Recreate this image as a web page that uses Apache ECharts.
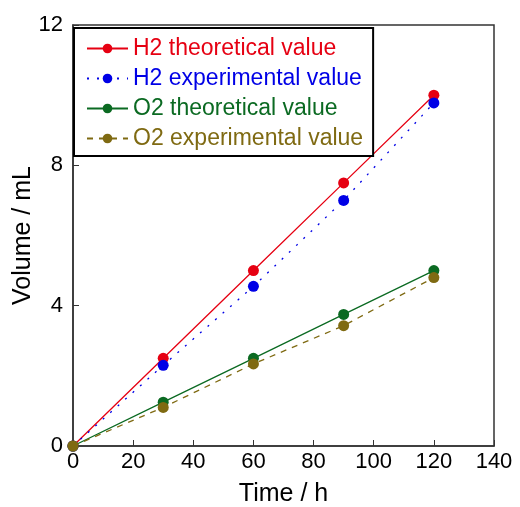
<!DOCTYPE html>
<html>
<head>
<meta charset="utf-8">
<script src="https://cdn.jsdelivr.net/npm/echarts@6/dist/echarts.min.js"></script>
<style>html,body{margin:0;padding:0;background:#fff;}#c{width:520px;height:507px;}</style>
</head>
<body>
<div id="c"></div>
<script>
var times = [0, 30, 60, 90, 120];
var h2Theoretical = [0, 2.5, 5.0, 7.5, 10.0];
var h2Experimental = [0, 2.3, 4.55, 7.0, 9.78];
var o2Theoretical = [0, 1.25, 2.5, 3.75, 5.0];
var o2Experimental = [0, 1.1, 2.34, 3.43, 4.8];
var seriesNames = ['H2 theoretical value', 'H2 experimental value', 'O2 theoretical value', 'O2 experimental value'];
var xTicks = [0, 20, 40, 60, 80, 100, 120, 140];
var yTicks = [0, 4, 8, 12];

var colors = ['#e60012', '#0000e6', '#0b6a22', '#7f6a12'];
var dashes = ['solid', [2, 8], 'solid', [6, 6]];
var datasets = [h2Theoretical, h2Experimental, o2Theoretical, o2Experimental];
var FONT = 'Liberation Sans, Arial, sans-serif';

function pair(vals) { return times.map(function (t, i) { return [t, vals[i]]; }); }

var chart = echarts.init(document.getElementById('c'), null, { renderer: 'canvas' });
chart.setOption({
  animation: false,
  backgroundColor: '#fff',
  grid: { left: 73, right: 26, top: 25, bottom: 61, containLabel: false, outerBoundsMode: 'none', show: true, borderColor: '#333', borderWidth: 1.5, backgroundColor: 'transparent' },
  xAxis: {
    type: 'value', min: xTicks[0], max: xTicks[xTicks.length - 1], interval: 20,
    name: 'Time / h', nameLocation: 'middle', nameGap: 36, nameMoveOverlap: false,
    nameTextStyle: { fontSize: 25, color: '#000', fontFamily: FONT },
    axisLine: { show: true, lineStyle: { color: '#333', width: 1.5 } },
    axisTick: { show: true, inside: true, length: 6, lineStyle: { color: '#333' } },
    axisLabel: { fontSize: 22, color: '#000', fontFamily: FONT, margin: 5 },
    splitLine: { show: false }
  },
  yAxis: {
    type: 'value', min: yTicks[0], max: yTicks[yTicks.length - 1], interval: 4,
    name: 'Volume / mL', nameLocation: 'middle', nameGap: 37, nameMoveOverlap: false,
    nameTextStyle: { fontSize: 25, color: '#000', fontFamily: FONT },
    axisLine: { show: true, lineStyle: { color: '#333', width: 1.5 } },
    axisTick: { show: true, inside: true, length: 6, lineStyle: { color: '#333' } },
    axisLabel: { fontSize: 22, color: '#000', fontFamily: FONT, margin: 10 },
    splitLine: { show: false }
  },
  legend: {
    orient: 'vertical', left: 74, top: 28,
    backgroundColor: '#fff', borderColor: '#000', borderWidth: 2,
    padding: [9, 10, 6, 12], itemGap: 7, itemWidth: 41, itemHeight: 12,
    textStyle: { fontSize: 23, fontFamily: FONT },
    data: seriesNames.map(function (n, i) { return { name: n, textStyle: { color: colors[i] } }; })
  },
  series: datasets.map(function (d, i) {
    return {
      name: seriesNames[i], type: 'line', data: pair(d),
      symbol: 'circle', symbolSize: 11,
      itemStyle: { color: colors[i] },
      lineStyle: { color: colors[i], width: 1.3, type: dashes[i] },
      z: 2 + i
    };
  })
});
</script>
</body>
</html>
